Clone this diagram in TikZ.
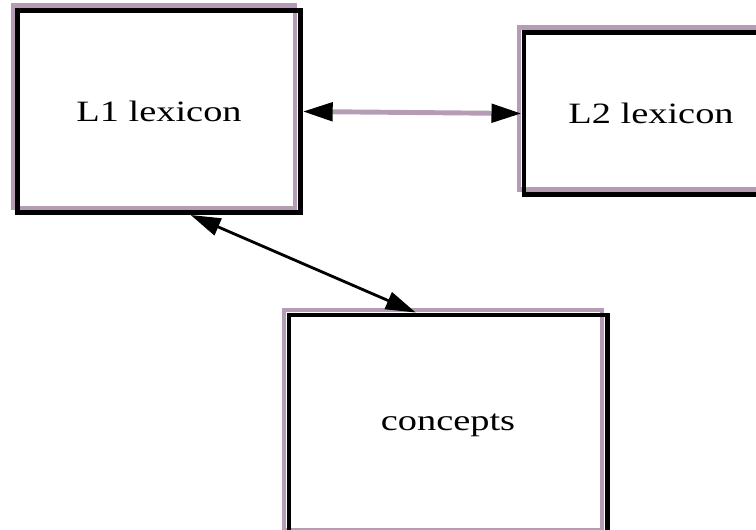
\documentclass[tikz,border=0pt]{standalone}
\usepackage{fontspec}
\setmainfont{Liberation Serif}
\usetikzlibrary{arrows.meta}
\definecolor{lilac}{RGB}{180,156,180}
\tikzset{
    lexbox/.style={draw, line width=3.5pt, inner sep=0pt, font=\fontsize{21}{25}\selectfont,
        preaction={draw=lilac, line width=3pt, transform canvas={xshift=-3.5pt, yshift=3.5pt}}},   % grey shade next to the frame
    link/.style={line width=2pt, {Triangle[length=0.75cm,width=0.45cm,color=black]}-{Triangle[length=0.75cm,width=0.45cm,color=black]}}
    }
\newcommand{\wide}[1]{\scalebox{1.3}[1]{#1}}

\begin{document}
\begin{tikzpicture}[x=0.025cm, y=-0.025cm]
	\useasboundingbox (0,0) rectangle (756,529);
	\clip (0,0) rectangle (756,529);

	\node[lexbox, minimum width=7.06cm, minimum height=5.05cm] (L1) at (159,111.5) {\wide{L1 lexicon}};
	\node[lexbox, minimum width=6.35cm, minimum height=4.05cm] (L2) at (651,113.5) {\wide{L2 lexicon}};
	\node[lexbox, minimum width=7.95cm, minimum height=5.5cm] (concepts) at (448,425) {\wide{concepts}};

	\draw[link, draw=lilac, line width=3.5pt] (L1.east) -- (L2.west);
	\draw[link] (L1.-73) -- (concepts.106);
\end{tikzpicture}
\end{document}
